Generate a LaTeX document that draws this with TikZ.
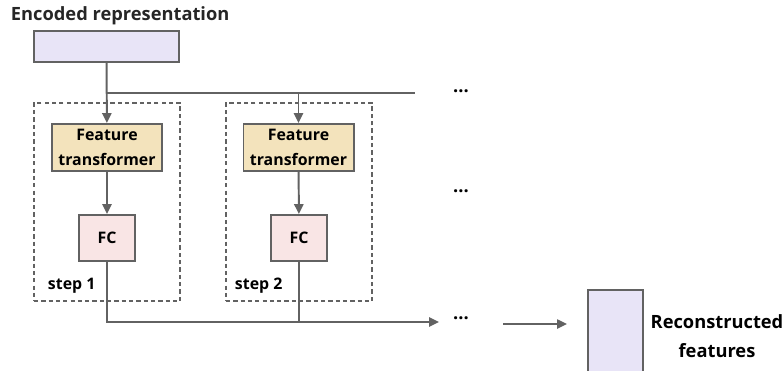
\documentclass[tikz,border=0pt]{standalone}
\usepackage{fontspec}
\setmainfont{Open Sans}
\usetikzlibrary{arrows.meta}
\definecolor{linegray}{HTML}{626262}
\definecolor{encfill}{HTML}{E8E4F7}
\definecolor{ftfill}{HTML}{F3E3BC}
\definecolor{fcfill}{HTML}{F9E5E5}
\begin{document}
\begin{tikzpicture}[x=0.025cm,y=-0.025cm,
    font=\fontsize{11.3}{15}\selectfont\bfseries,
    big/.style={font=\fontsize{13}{18}\selectfont\bfseries},
    box/.style={draw=linegray,line width=1.4pt,inner sep=0pt,align=center},
    stepframe/.style={draw=linegray,line width=1.2pt,dash pattern=on 3pt off 2.2pt,minimum width=3.65cm,minimum height=4.95cm},
    conn/.style={draw=linegray,line width=1.4pt},
    arr/.style={conn,-{Triangle[length=7pt,width=6.5pt]}}]
    \clip (0,0) rectangle (783,370);
    \useasboundingbox (0,0) rectangle (783,370);

    \node[big,anchor=west,text=black!85] (title) at (6,16) {Encoded representation};
    \node[box,fill=encfill,minimum width=3.625cm,minimum height=0.775cm] (enc) at (106.5,46.5) {};

    \node[stepframe] (st1) at (107,202) {};
    \node[stepframe] (st2) at (299,202) {};

    \node[box,fill=ftfill,minimum width=2.75cm,minimum height=1.175cm] (ft1) at (107,147.5) {Feature\\[3pt]transformer};
    \node[box,fill=ftfill,minimum width=2.75cm,minimum height=1.175cm] (ft2) at (298.5,147.5) {Feature\\[3pt]transformer};
    \node[box,fill=fcfill,minimum width=1.4cm,minimum height=1.15cm] (fc1) at (107,238) {FC};
    \node[box,fill=fcfill,minimum width=1.4cm,minimum height=1.15cm] (fc2) at (299,238) {FC};

    \node[anchor=west] (lab1) at (43,286) {step 1};
    \node[anchor=west] (lab2) at (230,286) {step 2};

    \node[big] (d1) at (461,91) {...};
    \node[big] (d2) at (461,191) {...};
    \node[big] (d3) at (461,318) {...};

    \node[box,fill=encfill,minimum width=1.375cm,minimum height=2.2cm] (rec) at (615.5,334) {};
    \node[big,align=center] (reclab) at (717,336) {Reconstructed\\[3pt]features};

    \coordinate (j1) at (107,93);
    \coordinate (jend) at (415,93);
    \coordinate (b1) at (107,322);
    \coordinate (bend) at (439,322);
    \coordinate (r1) at (503,324);
    \coordinate (r2) at (567,324);

    \draw[arr] (enc) -- (ft1);
    \draw[conn] (j1) -- (jend);
    \draw[arr] (j1 -| ft2) -- (ft2);
    \draw[arr] (ft1) -- (fc1);
    \draw[arr] (ft2) -- (fc2);
    \draw[arr] (fc1) -- (b1) -- (bend);
    \draw[conn] (fc2) -- (b1 -| fc2);
    \draw[arr,line width=1.1pt] (r1) -- (r2);
\end{tikzpicture}
\end{document}
